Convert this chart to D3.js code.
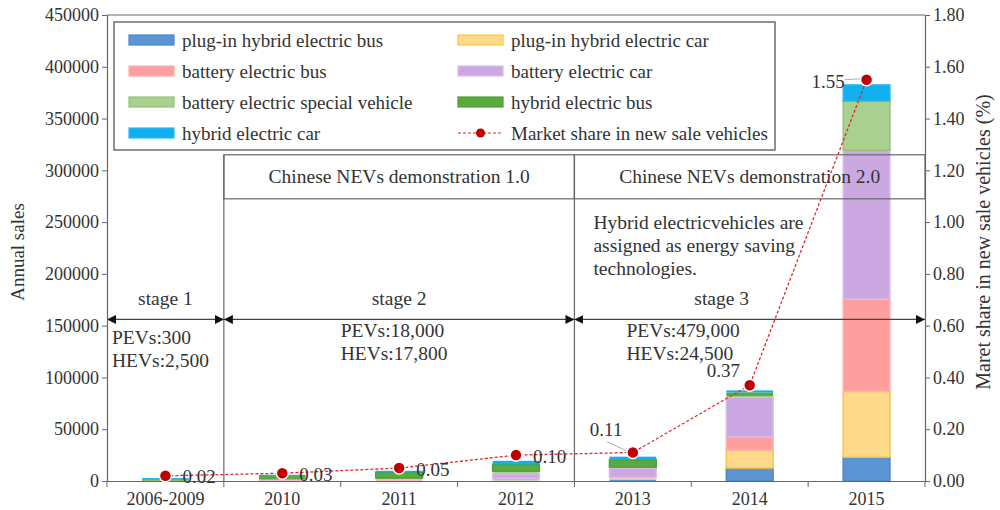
<!DOCTYPE html>
<html>
<head>
<meta charset="utf-8">
<script src="https://cdn.jsdelivr.net/npm/d3@7"></script>
<style>
    body { margin: 0; background: #fff; }
    svg text { font-family: "Liberation Serif", "Times New Roman", serif; fill: #333; }
</style>
</head>
<body>
<svg id="chart" width="1000" height="510"></svg>
<script>
// categories
const years = ['2006-2009', '2010', '2011', '2012', '2013', '2014', '2015'];

// series (annual sales)
const phevBus = [0, 100, 200, 500, 1500, 12500, 23000];
const phevCar = [0, 100, 200, 500, 1000, 17500, 63500];
const bevBus = [200, 500, 1000, 1500, 1000, 12500, 89000];
const bevCar = [100, 300, 500, 4500, 9000, 38500, 144000];
const bevSpecial = [0, 300, 1000, 2500, 1000, 1000, 47500];
const hevBus = [1500, 3500, 5500, 6500, 7000, 3500, 0];
const hevCar = [1000, 1200, 1500, 3500, 3000, 2000, 15500];

// market share line (%)
const marketShare = [0.02, 0.03, 0.05, 0.10, 0.11, 0.37, 1.55];
const shareLabels = ['0.02', '0.03', '0.05', '0.10', '0.11', '0.37', '1.55'];

// ticks
const salesTicks = [0, 50000, 100000, 150000, 200000, 250000, 300000, 350000, 400000, 450000];
const shareTicks = [0, 0.2, 0.4, 0.6, 0.8, 1.0, 1.2, 1.4, 1.6, 1.8];

// stages / programme notes
const stageNames = ['stage 1', 'stage 2', 'stage 3'];
const stageStart = [0, 1, 4];   // first category index
const stageEnd = [0, 3, 6];     // last category index
const stagePEVs = ['PEVs:300', 'PEVs:18,000', 'PEVs:479,000'];
const stageHEVs = ['HEVs:2,500', 'HEVs:17,800', 'HEVs:24,500'];
const demoNames = ['Chinese NEVs demonstration 1.0', 'Chinese NEVs demonstration 2.0'];
const noteLines = ['Hybrid electricvehicles are', 'assigned as energy saving', 'technologies.'];

// stack order bottom -> top and colours
const stackKeys = ['phevBus', 'phevCar', 'bevBus', 'bevCar', 'bevSpecial', 'hevBus', 'hevCar'];
const fills = {
    phevBus: '#5b95d3', phevCar: '#ffd98c', bevBus: '#ff9e9e', bevCar: '#cba8e2',
    bevSpecial: '#a9d08e', hevBus: '#5aab3e', hevCar: '#10b0ee'
};
const strokes = {
    phevBus: '#4f87c4', phevCar: '#f5c644', bevBus: '#ffb0b0', bevCar: '#d8bde9',
    bevSpecial: '#93c275', hevBus: '#4f9c36', hevCar: '#2fb8ee'
};
const legendItems = [
    ['phevBus', 'plug-in hybrid electric bus'], ['phevCar', 'plug-in hybrid electric car'],
    ['bevBus', 'battery electric bus'], ['bevCar', 'battery electric car'],
    ['bevSpecial', 'battery electric special vehicle'], ['hevBus', 'hybrid electric bus'],
    ['hevCar', 'hybrid electric car'], ['share', 'Market share in new sale vehicles']
];

class Chart {
    constructor() {
        this.svg = d3.select('#chart');
        this.left = 107;
        this.right = 925;
        this.top = 15;
        this.bottom = 481;
        this.fs = 19.5;

        this.x = d3.scaleBand().domain(years).range([this.left, this.right]);
        this.y = d3.scaleLinear().domain([0, 450000]).range([this.bottom, this.top]);
        this.y2 = d3.scaleLinear().domain([0, 1.8]).range([this.bottom, this.top]);

        this.rows = years.map((yr, i) => ({
            year: yr,
            phevBus: phevBus[i], phevCar: phevCar[i], bevBus: bevBus[i], bevCar: bevCar[i],
            bevSpecial: bevSpecial[i], hevBus: hevBus[i], hevCar: hevCar[i]
        }));

        this.drawBars();
        this.drawAnnotations();
        this.drawAxes();
        this.drawShare();
        this.drawLegend();
    }

    cx(i) {
        return this.x(years[i]) + this.x.bandwidth() / 2;
    }

    drawAxes() {
        let svg = this.svg;
        // frame top
        svg.append('line')
            .attr('x1', this.left).attr('x2', this.right)
            .attr('y1', this.top).attr('y2', this.top)
            .attr('stroke', '#666').attr('stroke-width', 1.2);

        let axisL = d3.axisLeft(this.y).tickValues(salesTicks).tickFormat(d => d).tickSize(5).tickSizeOuter(0);
        let gl = svg.append('g').attr('transform', `translate(${this.left},0)`).call(axisL);

        let axisR = d3.axisRight(this.y2).tickValues(shareTicks).tickFormat(d3.format('.2f')).tickSize(5).tickSizeOuter(0);
        let gr = svg.append('g').attr('transform', `translate(${this.right},0)`).call(axisR);

        let axisB = d3.axisBottom(this.x).tickSize(0).tickSizeOuter(0);
        let gb = svg.append('g').attr('transform', `translate(0,${this.bottom})`).call(axisB);

        // ticks between categories
        let edges = d3.range(years.length + 1).map(i => this.left + i * this.x.step());
        gb.selectAll('.sep').data(edges).join('line')
            .attr('class', 'sep')
            .attr('x1', d => d).attr('x2', d => d)
            .attr('y1', 0).attr('y2', 6)
            .attr('stroke', '#666');

        [gl, gr, gb].forEach(g => {
            g.select('.domain').attr('stroke', '#666').attr('stroke-width', 1.2);
            g.selectAll('.tick line').attr('stroke', '#666');
            g.selectAll('text').attr('font-size', 18).attr('fill', '#333')
                .style('font-family', '"Liberation Serif", serif');
        });
        gl.selectAll('text').attr('x', -8);
        gr.selectAll('text').attr('x', 8);
        gb.selectAll('text').attr('y', 11);

        svg.append('text')
            .attr('transform', `translate(24,${(this.top + this.bottom) / 2 + 4}) rotate(-90)`)
            .attr('text-anchor', 'middle')
            .attr('font-size', 19)
            .text('Annual sales');

        svg.append('text')
            .attr('transform', `translate(990,${(this.top + this.bottom) / 2 - 6}) rotate(-90)`)
            .attr('text-anchor', 'middle')
            .attr('font-size', 20)
            .text('Maret share in new sale vehicles (%)');
    }

    drawBars() {
        let stack = d3.stack().keys(stackKeys);
        let layers = stack(this.rows);
        let bw = this.x.bandwidth() * 0.4;
        let off = this.x.bandwidth() * 0.3;

        this.svg.append('g').selectAll('g')
            .data(layers)
            .join('g')
            .attr('fill', d => fills[d.key])
            .attr('stroke', d => strokes[d.key])
            .selectAll('rect')
            .data(d => d)
            .join('rect')
            .attr('x', d => this.x(d.data.year) + off)
            .attr('width', bw)
            .attr('y', d => this.y(d[1]))
            .attr('height', d => Math.max(0, this.y(d[0]) - this.y(d[1])))
            .attr('stroke-width', d => (this.y(d[0]) - this.y(d[1])) > 4 ? 1.5 : 0);
    }

    drawAnnotations() {
        let svg = this.svg;
        let fs = this.fs;
        let step = this.x.step();
        let edge = i => this.left + i * step;
        let arrowY = this.y(156000);
        let boxTop = this.y(315000);
        let boxBottom = this.y(272500);

        svg.append('defs').append('marker')
            .attr('id', 'head')
            .attr('viewBox', '0 0 10 10')
            .attr('refX', 10).attr('refY', 5)
            .attr('markerWidth', 9).attr('markerHeight', 9)
            .attr('markerUnits', 'userSpaceOnUse')
            .attr('orient', 'auto-start-reverse')
            .append('path').attr('d', 'M0,0L10,5L0,10Z').attr('fill', '#111');

        // stage separators
        [1, 4].forEach(i => {
            svg.append('line')
                .attr('x1', edge(i)).attr('x2', edge(i))
                .attr('y1', boxTop).attr('y2', this.bottom)
                .attr('stroke', '#666').attr('stroke-width', 1.2);
        });

        // demonstration boxes
        [[1, 4], [4, 7]].forEach((r, k) => {
            svg.append('rect')
                .attr('x', edge(r[0])).attr('y', boxTop)
                .attr('width', edge(r[1]) - edge(r[0])).attr('height', boxBottom - boxTop)
                .attr('fill', 'none').attr('stroke', '#666').attr('stroke-width', 1.2);
            svg.append('text')
                .attr('x', (edge(r[0]) + edge(r[1])) / 2).attr('y', (boxTop + boxBottom) / 2 + 6)
                .attr('text-anchor', 'middle').attr('font-size', fs)
                .text(demoNames[k]);
        });

        // stage arrows
        stageNames.forEach((s, k) => {
            let x1 = edge(stageStart[k]);
            let x2 = edge(stageEnd[k] + 1);
            svg.append('line')
                .attr('x1', x1).attr('x2', x2)
                .attr('y1', arrowY).attr('y2', arrowY)
                .attr('stroke', '#444').attr('stroke-width', 1.3)
                .attr('marker-start', 'url(#head)')
                .attr('marker-end', 'url(#head)');
            let mid = k === 2 ? (x1 + x2) / 2 - 28 : (x1 + x2) / 2;
            svg.append('text')
                .attr('x', mid).attr('y', arrowY - 14)
                .attr('text-anchor', 'middle').attr('font-size', fs)
                .text(s);
        });

        // PEV / HEV notes
        let noteX = [edge(0) + 5, edge(2) + 0, edge(4) + 52];
        let noteY = [arrowY + 25, arrowY + 18, arrowY + 18];
        stageNames.forEach((s, k) => {
            svg.append('text').attr('x', noteX[k]).attr('y', noteY[k])
                .attr('font-size', fs).text(stagePEVs[k]);
            svg.append('text').attr('x', noteX[k]).attr('y', noteY[k] + 23)
                .attr('font-size', fs).text(stageHEVs[k]);
        });

        svg.append('g').selectAll('text')
            .data(noteLines)
            .join('text')
            .attr('x', edge(4) + 19)
            .attr('y', (d, i) => boxBottom + 30 + i * 23)
            .attr('font-size', fs)
            .text(d => d);
    }

    drawShare() {
        let svg = this.svg;
        let line = d3.line()
            .x((d, i) => this.cx(i))
            .y(d => this.y2(d));

        svg.append('path')
            .datum(marketShare)
            .attr('d', line)
            .attr('fill', 'none')
            .attr('stroke', '#e0282c')
            .attr('stroke-width', 1.3)
            .attr('stroke-dasharray', '3,2');

        // leader lines for the labels placed off to the side
        let leaders = [[4, -26, -11], [6, -22, 0]];
        leaders.forEach(l => {
            let px = this.cx(l[0]), py = this.y2(marketShare[l[0]]);
            svg.append('line')
                .attr('x1', px + l[1]).attr('y1', py + l[2])
                .attr('x2', px - 5).attr('y2', py - 1)
                .attr('stroke', '#9fb3c8').attr('stroke-width', 1);
        });

        svg.append('g').selectAll('circle')
            .data(marketShare)
            .join('circle')
            .attr('cx', (d, i) => this.cx(i))
            .attr('cy', d => this.y2(d))
            .attr('r', 6)
            .attr('fill', '#c00000')
            .attr('stroke', '#fff')
            .attr('stroke-width', 1.5);

        // label offsets relative to the point
        let dx = [17, 17, 17, 17, -43, -43, -55];
        let dy = [1, 1, 1, 1, -23, -15, 2];
        svg.append('g').selectAll('text')
            .data(shareLabels)
            .join('text')
            .attr('x', (d, i) => this.cx(i) + dx[i])
            .attr('y', (d, i) => this.y2(marketShare[i]) + dy[i])
            .attr('dy', '0.35em')
            .attr('font-size', 19)
            .text(d => d);
    }

    drawLegend() {
        let svg = this.svg;
        let g = svg.append('g');
        g.append('rect')
            .attr('x', 114).attr('y', 22).attr('width', 661).attr('height', 128)
            .attr('fill', '#fff').attr('stroke', '#555').attr('stroke-width', 1.3);

        let items = g.selectAll('.item')
            .data(legendItems)
            .join('g')
            .attr('class', 'item')
            .attr('transform', (d, i) => `translate(${i % 2 === 0 ? 129 : 458},${40 + Math.floor(i / 2) * 31})`);

        items.filter(d => d[0] !== 'share').append('rect')
            .attr('x', 0).attr('y', -5).attr('width', 45).attr('height', 10)
            .attr('fill', d => fills[d[0]])
            .attr('stroke', d => strokes[d[0]])
            .attr('stroke-width', 1.2);

        let share = items.filter(d => d[0] === 'share');
        share.append('line')
            .attr('x1', 0).attr('x2', 45).attr('y1', 0).attr('y2', 0)
            .attr('stroke', '#e0282c').attr('stroke-width', 1.2).attr('stroke-dasharray', '3,2');
        share.append('circle')
            .attr('cx', 22.5).attr('cy', 0).attr('r', 4.5).attr('fill', '#c00000');

        items.append('text')
            .attr('x', 53).attr('y', 0).attr('dy', '0.35em')
            .attr('font-size', 19)
            .text(d => d[1]);
    }
}

new Chart();
</script>
</body>
</html>
